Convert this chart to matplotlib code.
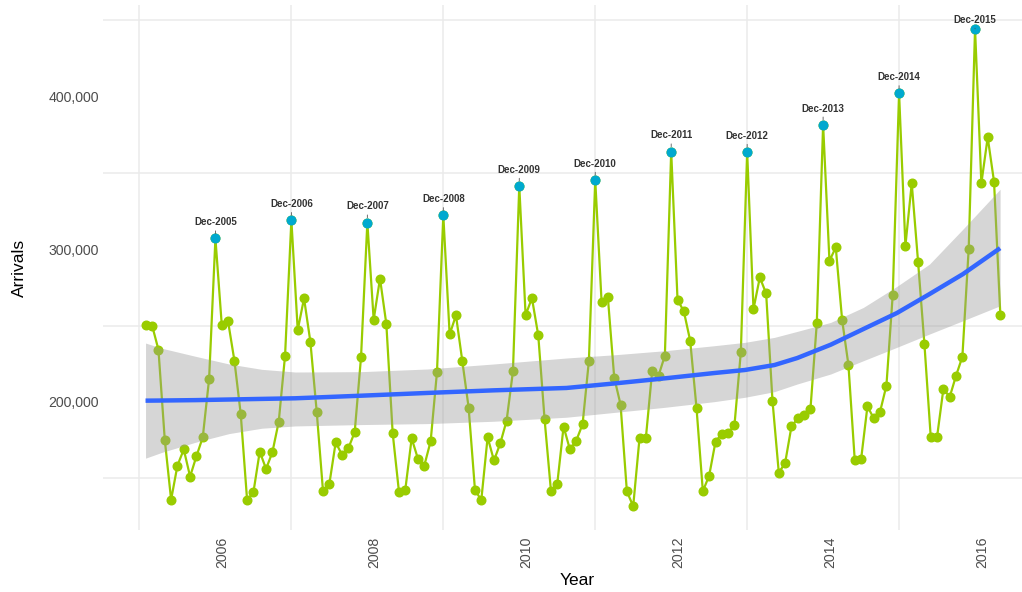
import numpy as np
import pandas as pd
import matplotlib
matplotlib.use('Agg')
import matplotlib.pyplot as plt

plt.rcParams['font.family'] = ['Liberation Sans', 'DejaVu Sans']

# monthly arrivals, Jan 2005 - Apr 2016
arrivals_2005 = [250300, 250000, 234200, 175200, 136000, 158400, 168900, 151200, 164500, 176900, 215000, 307000]
arrivals_2006 = [250500, 252700, 227000, 192000, 136000, 140800, 167500, 156200, 167100, 187100, 230300, 319000]
arrivals_2007 = [247100, 267800, 239400, 193700, 141400, 146400, 173600, 165400, 169700, 180200, 229200, 317400]
arrivals_2008 = [253800, 280800, 251000, 179700, 141000, 142700, 176200, 162700, 158400, 174300, 219600, 322200]
arrivals_2009 = [244200, 256700, 226800, 196300, 142500, 135700, 176900, 161700, 172900, 187800, 220000, 341400]
arrivals_2010 = [256800, 268000, 243600, 188600, 142000, 146400, 183900, 168900, 174700, 185400, 227000, 345300]
arrivals_2011 = [265600, 268400, 215900, 198300, 141400, 131800, 176500, 176500, 220500, 217200, 230300, 363900]
arrivals_2012 = [266900, 259300, 240100, 196100, 141600, 151800, 174000, 179100, 179700, 185000, 232500, 363600]
arrivals_2013 = [260800, 281500, 271000, 200900, 153600, 160100, 184000, 189300, 191500, 195400, 251400, 381500]
arrivals_2014 = [292400, 301100, 253800, 224200, 161700, 162500, 197100, 189300, 193700, 210700, 270300, 402000]
arrivals_2015 = [302200, 343100, 291700, 238100, 177100, 177100, 208500, 203300, 217200, 229600, 300400, 444200]
arrivals_2016 = [343100, 373200, 344200, 256900]

# smoother and its confidence band
fit_x = [2005.08, 2005.30, 2005.74, 2006.18, 2006.61, 2007.05, 2007.92, 2008.79, 2009.66, 2010.62, 2011.27,
         2011.92, 2012.57, 2012.97, 2013.36, 2013.66, 2014.10, 2014.53, 2014.97, 2015.40, 2015.84, 2016.33]
fit_y = [200850, 200950, 201200, 201600, 202000, 202400, 204100, 205900, 207600, 209150, 212200,
         215470, 218950, 220920, 224180, 228760, 237470, 247710, 258170, 270590, 283660, 300650]
fit_hi = [238560, 235080, 229850, 224840, 221350, 219600, 219830, 221570, 224840, 228760, 230940,
          233550, 236820, 239000, 242270, 246190, 252070, 261870, 275600, 290200, 313070, 339220]
fit_lo = [163200, 167100, 173660, 179300, 182800, 184300, 185200, 185840, 187360, 190000, 193250,
          196510, 200220, 203050, 206750, 211760, 218300, 227000, 235730, 244440, 253140, 262940]

arrivals = (arrivals_2005 + arrivals_2006 + arrivals_2007 + arrivals_2008 + arrivals_2009 +
            arrivals_2010 + arrivals_2011 + arrivals_2012 + arrivals_2013 + arrivals_2014 +
            arrivals_2015 + arrivals_2016)
dates = pd.date_range('2005-01-01', periods=len(arrivals), freq='MS')
df = pd.DataFrame({'date': dates, 'arrivals': arrivals})
df['t'] = df['date'].dt.year + df['date'].dt.month / 12
peaks = df[df['date'].dt.month == 12]

green = '#99CC00'
cyan = '#00A9CF'

fig = plt.figure(figsize=(10.22, 5.92), dpi=100)
ax = fig.add_axes([103 / 1022, 62 / 592, 948 / 1022, 525 / 592])

ax.plot(df['t'], df['arrivals'], color=green, lw=1.6, zorder=2)
ax.plot(df['t'], df['arrivals'], 'o', color=green, ms=6.2, zorder=2)
ax.plot(peaks['t'], peaks['arrivals'], 'o', color=cyan, ms=6.2, zorder=2.5)

ax.fill_between(fit_x, fit_lo, fit_hi, color='#999999', alpha=0.4, lw=0, zorder=3)
ax.plot(fit_x, fit_y, color='#3366FF', lw=3.2, zorder=4, solid_capstyle='butt')

# peak labels, with a short leader like ggrepel
for _, row in peaks.iterrows():
    off = 3 if row['arrivals'] > 430000 else 8
    ax.annotate(row['date'].strftime('%b-%Y'), (row['t'], row['arrivals']),
                xytext=(0, off), textcoords='offset points', ha='center', va='bottom',
                fontsize=7, fontweight='bold', color='#333333', zorder=6,
                arrowprops=dict(arrowstyle='-', color='#555555', lw=0.6,
                                shrinkA=0.5, shrinkB=3.5))

ax.set_xlim(2004.52, 2016.896)
ax.set_ylim(116200, 459800)

ax.set_xticks([2006, 2008, 2010, 2012, 2014, 2016])
ax.set_xticks([2005, 2007, 2009, 2011, 2013, 2015, 2017], minor=True)
ax.set_yticks([200000, 300000, 400000])
ax.set_yticklabels(['200,000', '300,000', '400,000'])
ax.set_yticks([150000, 250000, 350000, 450000], minor=True)
ax.tick_params(axis='x', which='major', rotation=90, labelsize=10.2, colors='#4D4D4D', length=0, pad=5)
ax.tick_params(axis='y', which='major', labelsize=10.2, colors='#4D4D4D', length=0, pad=3)
ax.tick_params(which='minor', length=0)
plt.setp(ax.get_xticklabels(), ha='left')
ax.grid(which='minor', color='#EBEBEB', lw=1.1)
ax.grid(which='major', visible=False)
ax.set_axisbelow(True)
for s in ax.spines.values():
    s.set_visible(False)

ax.set_xlabel('Year', fontsize=12.5, labelpad=3)
ax.set_ylabel('Arrivals', fontsize=12.5, labelpad=15.5)

fig.savefig('out.png', dpi=100)
